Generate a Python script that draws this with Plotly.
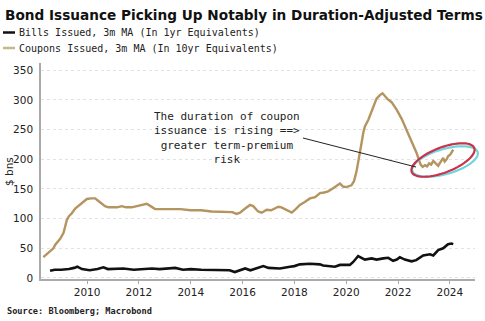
import numpy as np
import plotly.graph_objects as go

# ---- data ----
coupon_t = [2008.31, 2008.45, 2008.57, 2008.70, 2008.77, 2008.90, 2008.96, 2009.09, 2009.15, 2009.22,
            2009.30, 2009.41, 2009.54, 2009.65, 2009.73, 2009.85, 2009.99, 2010.15, 2010.31, 2010.40,
            2010.50, 2010.60, 2010.69, 2010.82, 2010.95, 2011.15, 2011.34, 2011.50, 2011.72, 2011.90,
            2012.10, 2012.30, 2012.45, 2012.62, 2012.80, 2013.20, 2013.60, 2014.00, 2014.40, 2014.80,
            2015.20, 2015.39, 2015.60, 2015.77, 2015.90, 2016.10, 2016.29, 2016.41, 2016.60, 2016.74,
            2016.93, 2017.10, 2017.38, 2017.50, 2017.70, 2017.90, 2018.05, 2018.21, 2018.40, 2018.60,
            2018.80, 2018.99, 2019.15, 2019.30, 2019.45, 2019.63, 2019.76, 2019.88, 2020.00, 2020.20,
            2020.30, 2020.40, 2020.46, 2020.53, 2020.59, 2020.66, 2020.72, 2020.85, 2020.98, 2021.08,
            2021.17, 2021.30, 2021.40, 2021.50, 2021.60, 2021.75, 2021.85, 2021.95, 2022.14, 2022.33,
            2022.52, 2022.72, 2022.87, 2022.95, 2023.04, 2023.12, 2023.20, 2023.28, 2023.36, 2023.45,
            2023.55, 2023.65, 2023.74, 2023.80, 2023.88, 2023.93, 2024.02, 2024.13]
coupon_v = [35, 40, 44, 50, 56, 62, 66, 76, 85, 98,
            104, 109, 117, 121, 125, 129, 133, 134, 134, 131,
            128, 124, 121, 119, 119, 119, 121, 119, 119, 121,
            123, 125, 121, 116, 116, 116, 116, 114, 114, 112,
            111, 111, 111, 108, 110, 117, 123, 121, 112, 110,
            115, 114, 120, 119, 114, 110, 116, 123, 128, 134,
            136, 143, 144, 146, 150, 156, 159, 154, 153, 156,
            163, 180, 193, 212, 227, 245, 255, 266, 280, 292,
            302, 308, 311, 306, 301, 296, 290, 283, 268, 249,
            229, 210, 191, 187, 190, 188, 193, 191, 197, 193,
            189, 196, 202, 196, 200, 205, 208, 216]

bills_t = [2008.57, 2008.75, 2009.00, 2009.30, 2009.50, 2009.62, 2009.80, 2010.10, 2010.40, 2010.63,
           2010.80, 2011.00, 2011.40, 2011.80, 2012.20, 2012.50, 2012.80, 2013.10, 2013.40, 2013.70,
           2014.00, 2014.40, 2014.80, 2015.20, 2015.50, 2015.70, 2015.90, 2016.10, 2016.30, 2016.60,
           2016.80, 2017.00, 2017.20, 2017.44, 2017.83, 2018.00, 2018.21, 2018.60, 2018.98, 2019.11,
           2019.56, 2019.76, 2020.14, 2020.27, 2020.46, 2020.60, 2020.72, 2020.98, 2021.17, 2021.43,
           2021.62, 2021.81, 2021.95, 2022.07, 2022.26, 2022.52, 2022.70, 2022.97, 2023.23, 2023.36,
           2023.55, 2023.74, 2023.93, 2024.06, 2024.13]
bills_v = [12, 14, 14, 15, 17, 19, 15, 13, 15, 18,
           15, 15, 16, 14, 15, 16, 15, 16, 17, 14,
           15, 14, 14, 14, 13, 10, 13, 16, 13, 18,
           20, 17, 17, 16, 19, 20, 23, 24, 23, 21,
           19, 22, 22, 27, 37, 33, 31, 33, 31, 33,
           34, 29, 31, 35, 31, 28, 30, 38, 40, 38,
           47, 50, 57, 58, 57]

x_ticks = [2010, 2012, 2014, 2016, 2018, 2020, 2022, 2024]
y_ticks = [0, 50, 100, 150, 200, 250, 300, 350]

title_text = "Bond Issuance Picking Up Notably in Duration-Adjusted Terms"
legend_names = ["Bills Issued, 3m MA (In 1yr Equivalents)",
                "Coupons Issued, 3m MA (In 10yr Equivalents)"]
note_text = "The duration of coupon<br>issuance is rising ==><br>greater term-premium<br>risk"
source_text = "Source: Bloomberg; Macrobond"

BILL_C = "#111111"
COUP_C = "#b4945f"
MONO = "DejaVu Sans Mono"
SANS = "DejaVu Sans"

W, H = 485, 321
ML, MR, MT, MB = 41, 10, 63, 42
XR = [2008.22, 2024.97]
YR = [-1.7, 362]
pw, ph = W - ML - MR, H - MT - MB

def px_to_data(px, py):
    x = XR[0] + (px - ML) / pw * (XR[1] - XR[0])
    y = YR[0] + (H - MB - py) / ph * (YR[1] - YR[0])
    return x, y

def ppx(px):
    return (px - ML) / pw

def ppy(py):
    return (H - MB - py) / ph

def ellipse_path(cx, cy, a, b, ang_deg, n=72):
    th = np.linspace(0, 2 * np.pi, n)
    ang = np.deg2rad(ang_deg)
    ex = cx + a * np.cos(th) * np.cos(ang) - b * np.sin(th) * np.sin(ang)
    ey = cy + a * np.cos(th) * np.sin(ang) + b * np.sin(th) * np.cos(ang)
    return "M " + " L ".join(f"{ppx(u):.5f},{ppy(v):.5f}" for u, v in zip(ex, ey)) + " Z"

fig = go.Figure()
fig.add_trace(go.Scatter(x=bills_t, y=bills_v, mode="lines", name=legend_names[0],
                         line=dict(color=BILL_C, width=2.6), showlegend=False))
fig.add_trace(go.Scatter(x=coupon_t, y=coupon_v, mode="lines", name=legend_names[1],
                         line=dict(color=COUP_C, width=2.4), showlegend=False))

shapes = []
# highlight ellipses (paper coords so they are not clipped at the plot edge)
shapes.append(dict(type="path", xref="paper", yref="paper", path=ellipse_path(445, 161.5, 34, 12.5, -16),
                   line=dict(color="#6fd6dc", width=2.2)))
shapes.append(dict(type="path", xref="paper", yref="paper", path=ellipse_path(443, 160, 33.5, 12.5, -21),
                   line=dict(color="#c8334a", width=2.2)))
# pointer line
x0, y0 = px_to_data(303, 138)
x1, y1 = px_to_data(416, 167)
shapes.append(dict(type="line", xref="x", yref="y", x0=x0, y0=y0, x1=x1, y1=y1,
                   line=dict(color="#222222", width=1)))
# legend swatches
shapes.append(dict(type="line", xref="paper", yref="paper", x0=ppx(3), x1=ppx(15), y0=ppy(32.5), y1=ppy(32.5),
                   line=dict(color=BILL_C, width=2.5)))
shapes.append(dict(type="line", xref="paper", yref="paper", x0=ppx(3), x1=ppx(15), y0=ppy(48), y1=ppy(48),
                   line=dict(color="#c9b58e", width=2.5)))

annotations = [
    dict(xref="paper", yref="paper", x=ppx(3), y=ppy(15), xanchor="left", yanchor="middle",
         text="<b>" + title_text + "</b>", showarrow=False, font=dict(family=SANS, size=13.65, color="#111")),
    dict(xref="paper", yref="paper", x=ppx(17), y=ppy(32.5), xanchor="left", yanchor="middle",
         text=legend_names[0], showarrow=False, font=dict(family=MONO, size=10, color="#222")),
    dict(xref="paper", yref="paper", x=ppx(17), y=ppy(48), xanchor="left", yanchor="middle",
         text=legend_names[1], showarrow=False, font=dict(family=MONO, size=10, color="#222")),
    dict(xref="paper", yref="paper", x=ppx(227), y=ppy(138), xanchor="center", yanchor="middle",
         text=note_text, showarrow=False, align="center",
         font=dict(family=MONO, size=11, color="#222")),
    dict(xref="paper", yref="paper", x=ppx(9), y=ppy(172), xanchor="center", yanchor="middle",
         text="$ bns", textangle=-90, showarrow=False, font=dict(family=SANS, size=10.5, color="#222")),
    dict(xref="paper", yref="paper", x=ppx(5), y=ppy(311), xanchor="left", yanchor="middle",
         text="<b>" + source_text + "</b>", showarrow=False, font=dict(family=MONO, size=8.6, color="#222")),
]

fig.update_layout(
    width=W, height=H,
    margin=dict(l=ML, r=MR, t=MT, b=MB),
    paper_bgcolor="white", plot_bgcolor="white",
    shapes=shapes, annotations=annotations,
    xaxis=dict(range=XR, tickvals=x_ticks, ticktext=[str(v) for v in x_ticks],
               showgrid=False, zeroline=False, showline=True, linecolor="#aaaaaa", linewidth=1.5,
               ticks="outside", ticklen=3, tickcolor="#aaaaaa",
               tickfont=dict(family=SANS, size=10.5, color="#222")),
    yaxis=dict(range=YR, tickvals=y_ticks, ticktext=[str(v) for v in y_ticks],
               showgrid=True, gridcolor="#e2e2e2", griddash="dot", gridwidth=1,
               zeroline=False, showline=True, linecolor="#aaaaaa", linewidth=1.5,
               ticks="", ticklabelstandoff=4,
               tickfont=dict(family=SANS, size=10.5, color="#222")),
    showlegend=False,
)

fig.write_html("out.html")
